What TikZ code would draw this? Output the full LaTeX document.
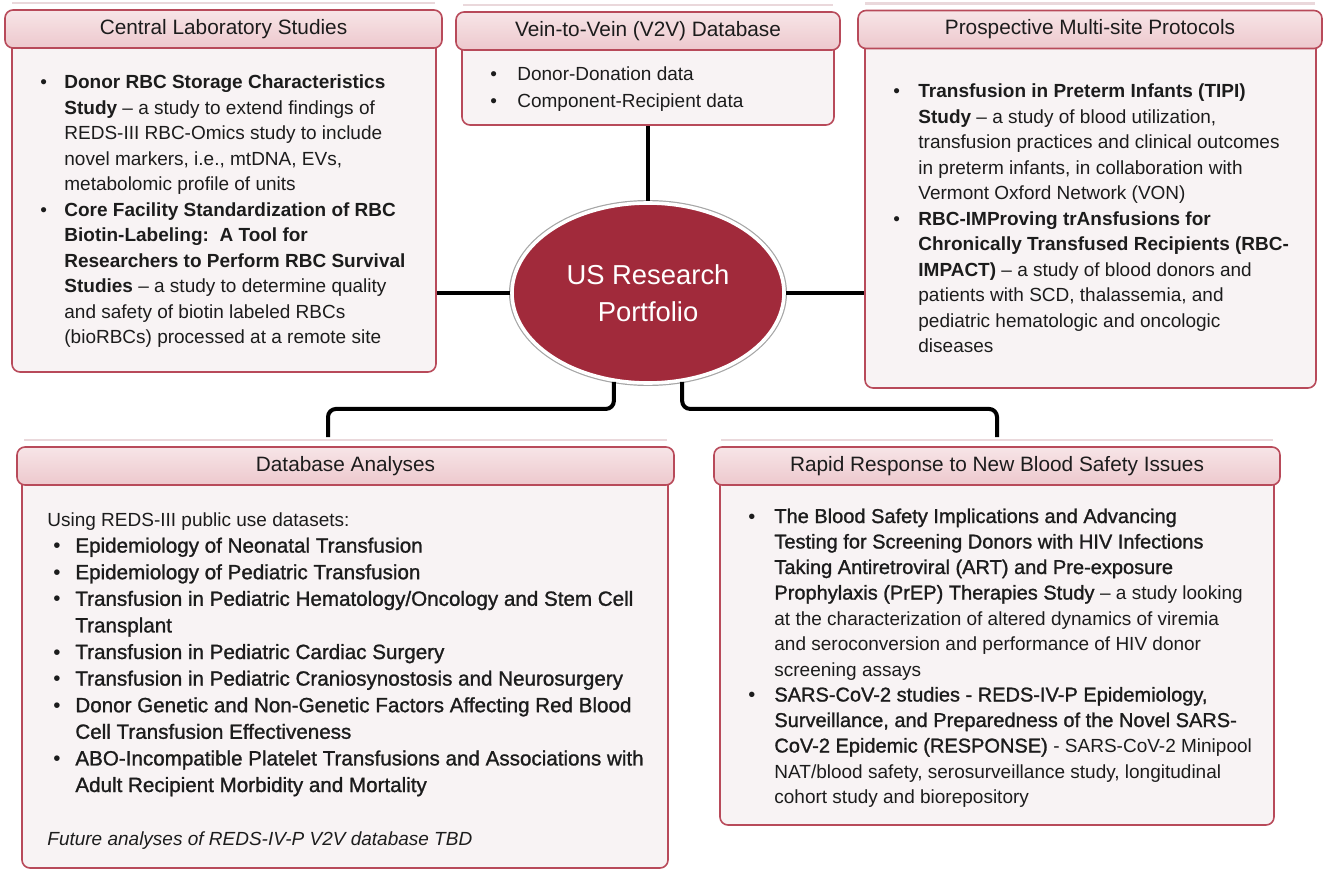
\documentclass[tikz,border=0pt]{standalone}
\usepackage{fontspec}
\setmainfont{Liberation Sans}
\newfontfamily\medfont[FakeBold=1.2]{Liberation Sans}
\usepackage{tikz}
\usetikzlibrary{shapes.geometric}
\usepackage{xcolor}
\definecolor{boxline}{HTML}{B84A5A}
\definecolor{hdrtop}{HTML}{F7E5E7}
\definecolor{hdrbot}{HTML}{EDC8CD}
\definecolor{panelfill}{HTML}{F8F3F4}
\definecolor{glintc}{HTML}{EAD8DB}
\definecolor{ellred}{HTML}{A12A3B}
\definecolor{ink}{HTML}{1C1C1C}
\newcommand{\md}[1]{{\medfont #1}}
\newcommand{\sm}{\fontsize{9.5}{12.75}\selectfont}

\begin{document}
\begin{tikzpicture}[x=0.5pt, y=-0.5pt, line join=round,
  panel/.style={draw=boxline, line width=0.8pt, fill=panelfill, rounded corners=4pt, inner sep=0pt},
  hdr/.style={draw=boxline, line width=0.8pt, top color=hdrtop, bottom color=hdrbot, rounded corners=4pt, minimum height=19pt, inner sep=0pt, text=ink, font=\fontsize{10.4}{12}\selectfont}]
		\tikzstyle{txt}=[inner sep=0pt, anchor=base west, text=ink, font=\fontsize{9.5}{12.75}\selectfont]
		\tikzstyle{conn}=[draw=black, line width=2pt, rounded corners=4pt]
		\tikzstyle{glint}=[draw=glintc, line width=1.2pt]

		\useasboundingbox (0,0) rectangle (1325,871);

		% Draw panels
		\node[panel, minimum width=212pt, minimum height=171.5pt] (clabb) at (224,200.5) {};
		\node[hdr, minimum width=218.5pt] (clabh) at (223.5,29) {Central Laboratory Studies};
		\node[panel, minimum width=186pt, minimum height=47pt] (v2vb) at (648,78) {};
		\node[hdr, minimum width=192pt] (v2vh) at (648,31) {Vein-to-Vein (V2V) Database};
		\node[panel, minimum width=225.5pt, minimum height=179.5pt] (psiteb) at (1090.5,208.5) {};
		\node[hdr, minimum width=232pt] (psiteh) at (1090,29.5) {Prospective Multi-site Protocols};
		\node[panel, minimum width=323pt, minimum height=201pt] (dbab) at (345,667) {};
		\node[hdr, minimum width=328.5pt] (dbah) at (345.5,466) {Database Analyses};
		\node[panel, minimum width=277pt, minimum height=179.5pt] (rrsb) at (997,645.5) {};
		\node[hdr, minimum width=283pt] (rrsh) at (997,466) {Rapid Response to New Blood Safety Issues};

		\foreach \h in {clabh,v2vh,psiteh,dbah,rrsh}
			\draw[glint] ([xshift=4pt,yshift=3pt]\h.north west) -- ([xshift=-4pt,yshift=3pt]\h.north east);

		% Draw centre
		\node[ellipse, fill=ellred, draw=white, line width=1.8pt, preaction={draw=gray!70, line width=3pt},
			minimum width=136pt, minimum height=90pt, inner sep=0pt, text=white, align=center,
			font=\fontsize{13.7}{18.5}\selectfont] (ell) at (648,293) {US Research\\Portfolio};

		% Draw text
		\node[txt] (clabt) at (40,89) {\begin{tabular}[t]{@{}p{12pt}@{}l@{}}
			\textbullet & \textbf{Donor RBC Storage Characteristics}\\
			& \textbf{Study} -- a study to extend findings of\\
			& REDS-III RBC-Omics study to include\\
			& novel markers, i.e., mtDNA, EVs,\\
			& metabolomic profile of units\\
			\textbullet & \textbf{Core Facility Standardization of RBC}\\
			& \textbf{Biotin-Labeling:\ \ A Tool for}\\
			& \textbf{Researchers to Perform RBC Survival}\\
			& \textbf{Studies} -- a study to determine quality\\
			& and safety of biotin labeled RBCs\\
			& (bioRBCs) processed at a remote site
		\end{tabular}};
		\node[txt, font=\fontsize{9.5}{13.5}\selectfont] (v2vt) at (490,81) {\begin{tabular}[t]{@{}p{13.5pt}@{}l@{}}
			\textbullet & Donor-Donation data\\
			\textbullet & Component-Recipient data
		\end{tabular}};
		\node[txt] (psitet) at (893,98) {\begin{tabular}[t]{@{}p{12.5pt}@{}l@{}}
			\textbullet & \textbf{Transfusion in Preterm Infants (TIPI)}\\
			& \textbf{Study} -- a study of blood utilization,\\
			& transfusion practices and clinical outcomes\\
			& in preterm infants, in collaboration with\\
			& Vermont Oxford Network (VON)\\
			\textbullet & \textbf{RBC-IMProving trAnsfusions for}\\
			& \textbf{Chronically Transfused Recipients (RBC-}\\
			& \textbf{IMPACT)} -- a study of blood donors and\\
			& patients with SCD, thalassemia, and\\
			& pediatric hematologic and oncologic\\
			& diseases
		\end{tabular}};
		\node[txt, font=\fontsize{10.3}{13.3}\selectfont] (dbat) at (53,526) {\begin{tabular}[t]{@{}p{11pt}@{}l@{}}
			\multicolumn{2}{@{\hspace{-3pt}}l@{}}{\fontsize{9.5}{13.3}\selectfont Using REDS-III public use datasets:}\\
			\textbullet & \md{Epidemiology of Neonatal Transfusion}\\
			\textbullet & \md{Epidemiology of Pediatric Transfusion}\\
			\textbullet & \md{Transfusion in Pediatric Hematology/Oncology and Stem Cell}\\
			& \md{Transplant}\\
			\textbullet & \md{Transfusion in Pediatric Cardiac Surgery}\\
			\textbullet & \md{Transfusion in Pediatric Craniosynostosis and Neurosurgery}\\
			\textbullet & \md{Donor Genetic and Non-Genetic Factors Affecting Red Blood}\\
			& \md{Cell Transfusion Effectiveness}\\
			\textbullet & \md{ABO-Incompatible Platelet Transfusions and Associations with}\\
			& \md{Adult Recipient Morbidity and Mortality}\\
			\\
			\multicolumn{2}{@{\hspace{-3pt}}l@{}}{\fontsize{9.5}{13.3}\selectfont\itshape Future analyses of REDS-IV-P V2V database TBD}
		\end{tabular}};
		\node[txt, font=\fontsize{10}{12.75}\selectfont] (rrst) at (748,523) {\begin{tabular}[t]{@{}p{13pt}@{}l@{}}
			\textbullet & \md{The Blood Safety Implications and Advancing}\\
			& \md{Testing for Screening Donors with HIV Infections}\\
			& \md{Taking Antiretroviral (ART) and Pre-exposure}\\
			& \md{Prophylaxis (PrEP) Therapies Study} {\sm -- a study looking}\\
			& {\sm at the characterization of altered dynamics of viremia}\\
			& {\sm and seroconversion and performance of HIV donor}\\
			& {\sm screening assays}\\
			\textbullet & \md{SARS-CoV-2 studies - REDS-IV-P Epidemiology,}\\
			& \md{Surveillance, and Preparedness of the Novel SARS-}\\
			& \md{CoV-2 Epidemic (RESPONSE)} {\sm - SARS-CoV-2 Minipool}\\
			& {\sm NAT/blood safety, serosurveillance study, longitudinal}\\
			& {\sm cohort study and biorepository}
		\end{tabular}};

		% Draw connectors
		\coordinate (dbain) at (328,437);
		\coordinate (rrsin) at (997,437);
		\path[conn] (v2vb.south) edge (ell.north);
		\path[conn] (ell.west) edge (ell.west -| clabb.east);
		\path[conn] (ell.east) edge (ell.east -| psiteb.west);
		\draw[conn] (ell.249) -- ++(0,27) -| (dbain);
		\draw[conn] (ell.291) -- ++(0,27) -| (rrsin);

		\end{tikzpicture}
\end{document}
